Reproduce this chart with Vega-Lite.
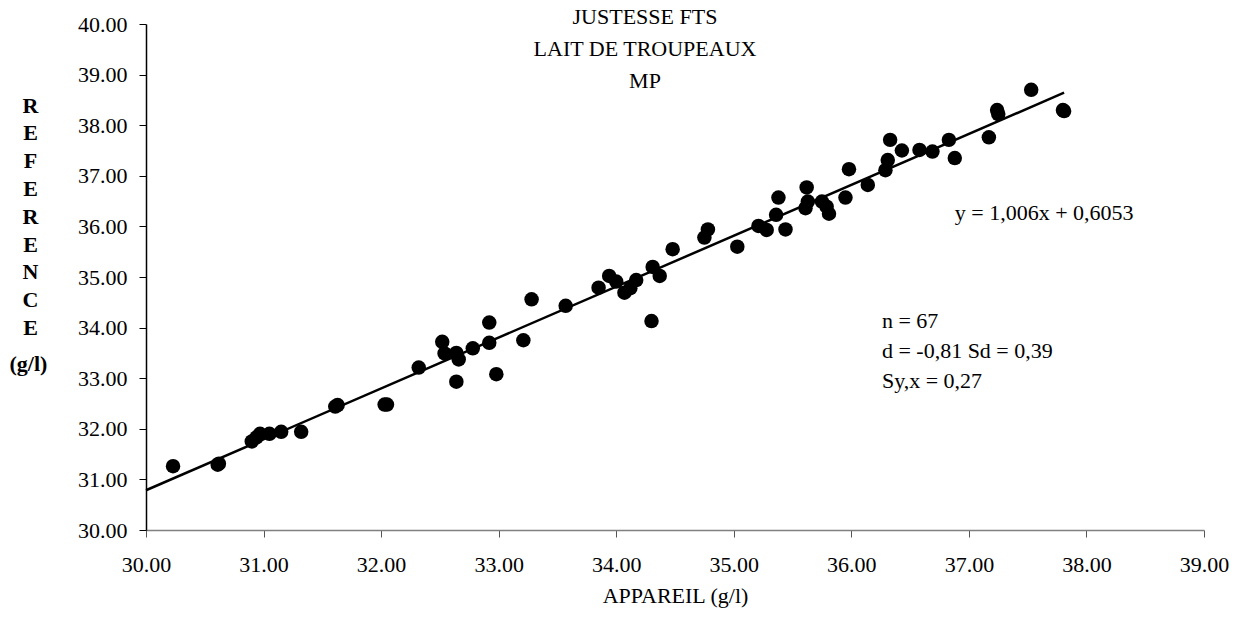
{
  "$schema": "https://vega.github.io/schema/vega-lite/v6.json",
  "width": 1058,
  "height": 506,
  "autosize": {"type": "none"},
  "padding": {"left": 146, "top": 24, "right": 34, "bottom": 90},
  "background": "white",
  "config": {
    "view": {"stroke": null},
    "font": "Liberation Serif",
    "axis": {"grid": false, "labelFont": "Liberation Serif", "titleFont": "Liberation Serif", "labelColor": "black", "titleColor": "black", "labelFlush": false, "labelOverlap": false}
  },
  "title": {
    "text": ["JUSTESSE FTS", "LAIT DE TROUPEAUX", "MP"],
    "font": "Liberation Serif",
    "fontSize": 22,
    "fontWeight": "normal",
    "color": "black",
    "lineHeight": 32,
    "anchor": "middle",
    "frame": "group",
    "offset": -80,
    "dx": -30
  },
  "datasets": {
    "pts": [
      {"appareil": 30.23, "reference": 31.26},
      {"appareil": 30.61, "reference": 31.29},
      {"appareil": 30.62, "reference": 31.31},
      {"appareil": 30.90, "reference": 31.75},
      {"appareil": 30.94, "reference": 31.83},
      {"appareil": 30.97, "reference": 31.90},
      {"appareil": 31.05, "reference": 31.90},
      {"appareil": 31.15, "reference": 31.94},
      {"appareil": 31.32, "reference": 31.94},
      {"appareil": 31.61, "reference": 32.44},
      {"appareil": 31.63, "reference": 32.47},
      {"appareil": 32.03, "reference": 32.48},
      {"appareil": 32.05, "reference": 32.48},
      {"appareil": 32.32, "reference": 33.21},
      {"appareil": 32.52, "reference": 33.72},
      {"appareil": 32.54, "reference": 33.49},
      {"appareil": 32.64, "reference": 33.50},
      {"appareil": 32.66, "reference": 33.37},
      {"appareil": 32.64, "reference": 32.93},
      {"appareil": 32.78, "reference": 33.59},
      {"appareil": 32.92, "reference": 34.10},
      {"appareil": 32.92, "reference": 33.70},
      {"appareil": 32.98, "reference": 33.08},
      {"appareil": 33.21, "reference": 33.75},
      {"appareil": 33.28, "reference": 34.56},
      {"appareil": 33.57, "reference": 34.43},
      {"appareil": 33.85, "reference": 34.79},
      {"appareil": 33.94, "reference": 35.02},
      {"appareil": 34.00, "reference": 34.91},
      {"appareil": 34.07, "reference": 34.69},
      {"appareil": 34.12, "reference": 34.78},
      {"appareil": 34.17, "reference": 34.94},
      {"appareil": 34.30, "reference": 34.13},
      {"appareil": 34.31, "reference": 35.20},
      {"appareil": 34.37, "reference": 35.02},
      {"appareil": 34.48, "reference": 35.55},
      {"appareil": 34.75, "reference": 35.78},
      {"appareil": 34.78, "reference": 35.94},
      {"appareil": 35.03, "reference": 35.60},
      {"appareil": 35.21, "reference": 36.01},
      {"appareil": 35.28, "reference": 35.93},
      {"appareil": 35.36, "reference": 36.23},
      {"appareil": 35.38, "reference": 36.57},
      {"appareil": 35.44, "reference": 35.94},
      {"appareil": 35.61, "reference": 36.36},
      {"appareil": 35.63, "reference": 36.49},
      {"appareil": 35.62, "reference": 36.77},
      {"appareil": 35.75, "reference": 36.49},
      {"appareil": 35.79, "reference": 36.39},
      {"appareil": 35.81, "reference": 36.25},
      {"appareil": 35.95, "reference": 36.57},
      {"appareil": 35.98, "reference": 37.13},
      {"appareil": 36.14, "reference": 36.82},
      {"appareil": 36.29, "reference": 37.11},
      {"appareil": 36.31, "reference": 37.31},
      {"appareil": 36.33, "reference": 37.71},
      {"appareil": 36.43, "reference": 37.50},
      {"appareil": 36.58, "reference": 37.51},
      {"appareil": 36.69, "reference": 37.48},
      {"appareil": 36.83, "reference": 37.71},
      {"appareil": 36.88, "reference": 37.35},
      {"appareil": 37.17, "reference": 37.76},
      {"appareil": 37.24, "reference": 38.30},
      {"appareil": 37.25, "reference": 38.22},
      {"appareil": 37.53, "reference": 38.70},
      {"appareil": 37.80, "reference": 38.30},
      {"appareil": 37.81, "reference": 38.28}
    ],
    "fit": [
      {"appareil": 30.0, "reference": 30.7853},
      {"appareil": 37.81, "reference": 38.6422}
    ]
  },
  "layer": [
    {
      "data": {"name": "pts"},
      "mark": {"type": "point", "shape": "circle", "filled": true, "color": "black", "opacity": 1, "size": 210},
      "encoding": {
        "x": {
          "field": "appareil", "type": "quantitative",
          "scale": {"domain": [30, 39], "nice": false, "zero": false},
          "axis": {
            "title": "APPAREIL (g/l)",
            "titleFontSize": 22, "titleFontWeight": "normal", "titlePadding": 10,
            "values": [30, 31, 32, 33, 34, 35, 36, 37, 38, 39],
            "format": ".2f",
            "labelFontSize": 22, "labelPadding": 17,
            "tickSize": 7, "tickColor": "#555555", "domainColor": "#808080", "domainWidth": 1.5
          }
        },
        "y": {
          "field": "reference", "type": "quantitative",
          "scale": {"domain": [30, 40], "nice": false, "zero": false},
          "axis": {
            "title": ["R", "E", "F", "E", "R", "E", "N", "C", "E"],
            "titleFontSize": 22, "titleFontWeight": "bold", "titleAngle": 0,
            "titleLineHeight": 27.8, "titleAlign": "center", "titleBaseline": "alphabetic",
            "titleX": -116, "titleY": 88,
            "values": [30, 31, 32, 33, 34, 35, 36, 37, 38, 39, 40],
            "format": ".2f",
            "labelFontSize": 22, "labelPadding": 12,
            "tickSize": 7, "tickColor": "black", "domainColor": "black", "domainWidth": 1.5
          }
        }
      }
    },
    {
      "data": {"name": "fit"},
      "mark": {"type": "line", "color": "black", "strokeWidth": 2.5},
      "encoding": {
        "x": {"field": "appareil", "type": "quantitative"},
        "y": {"field": "reference", "type": "quantitative"}
      }
    },
    {
      "data": {"values": [{}]},
      "mark": {"type": "text", "align": "center", "baseline": "middle", "fontSize": 22, "fontWeight": "bold", "font": "Liberation Serif", "color": "black", "clip": false},
      "encoding": {
        "x": {"datum": 29.0},
        "y": {"datum": 33.28},
        "text": {"value": "(g/l)"}
      }
    },
    {
      "data": {"values": [{}]},
      "mark": {"type": "text", "align": "left", "baseline": "middle", "fontSize": 22, "font": "Liberation Serif", "color": "black"},
      "encoding": {
        "x": {"datum": 36.88},
        "y": {"datum": 36.26},
        "text": {"value": "y = 1,006x + 0,6053"}
      }
    },
    {
      "data": {"values": [{}]},
      "mark": {"type": "text", "align": "left", "baseline": "middle", "fontSize": 22, "font": "Liberation Serif", "color": "black", "lineHeight": 30},
      "encoding": {
        "x": {"datum": 36.26},
        "y": {"datum": 34.13},
        "text": {"value": ["n = 67", "d = -0,81 Sd = 0,39", "Sy,x = 0,27"]}
      }
    }
  ]
}
